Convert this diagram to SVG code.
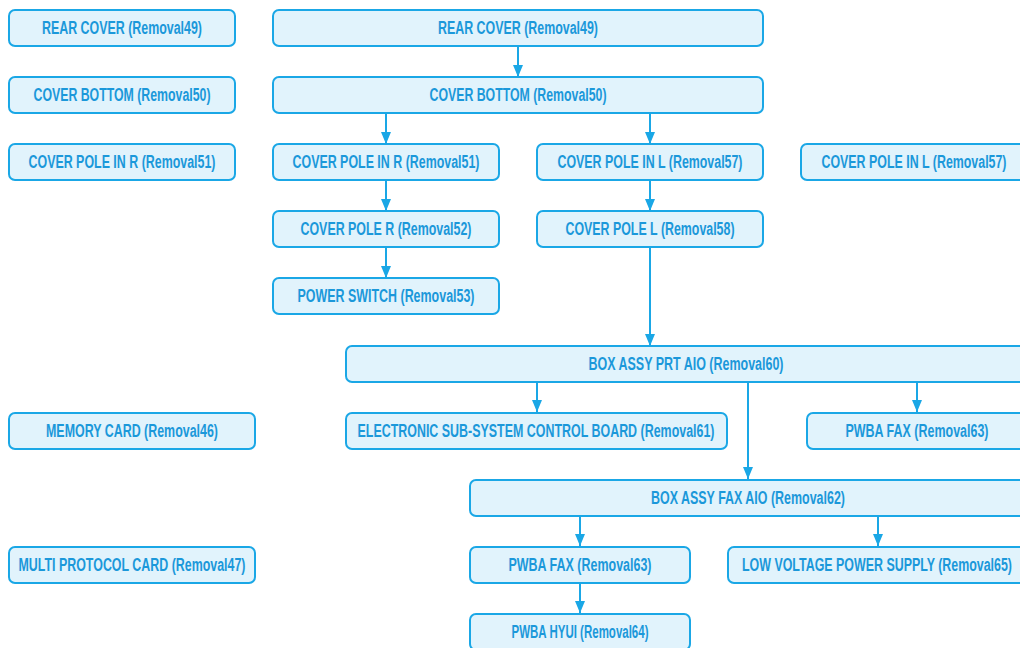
<svg xmlns="http://www.w3.org/2000/svg" width="1020" height="648" viewBox="0 0 1020 648">
<style>
.b{fill:#e1f3fc;stroke:#1aa7e6;stroke-width:2}
.t{font-family:"Liberation Sans",Arial,sans-serif;font-weight:bold;font-size:18px;fill:#1b98da;text-anchor:middle}
.c{stroke:#1aa7e6;stroke-width:2;fill:none;marker-end:url(#a)}
</style>
<defs>
<marker id="a" viewBox="0 0 12 10" refX="12" refY="5" markerWidth="12" markerHeight="10" markerUnits="userSpaceOnUse" orient="auto">
<path d="M0,0 L12,5 L0,10 Z" fill="#1aa7e6"/>
</marker>
</defs>
<rect width="1020" height="648" fill="#fff"/>
<g id="connectors">
<line class="c" x1="518" y1="46" x2="518" y2="77"/>
<line class="c" x1="386" y1="113" x2="386" y2="144"/>
<line class="c" x1="650" y1="113" x2="650" y2="144"/>
<line class="c" x1="386" y1="180" x2="386" y2="211"/>
<line class="c" x1="650" y1="180" x2="650" y2="211"/>
<line class="c" x1="386" y1="247" x2="386" y2="278"/>
<line class="c" x1="650" y1="247" x2="650" y2="346"/>
<line class="c" x1="537" y1="382" x2="537" y2="412"/>
<line class="c" x1="917" y1="382" x2="917" y2="412"/>
<line class="c" x1="748" y1="382" x2="748" y2="479"/>
<line class="c" x1="580" y1="516" x2="580" y2="546"/>
<line class="c" x1="878" y1="516" x2="878" y2="546"/>
<line class="c" x1="580" y1="583" x2="580" y2="613"/>
</g>
<g id="n1"><rect class="b" x="9" y="10" width="226" height="36" rx="6"/><text class="t" x="122" y="34" textLength="160" lengthAdjust="spacingAndGlyphs">REAR COVER (Removal49)</text></g>
<g id="n2"><rect class="b" x="273" y="10" width="490" height="36" rx="6"/><text class="t" x="518" y="34" textLength="160" lengthAdjust="spacingAndGlyphs">REAR COVER (Removal49)</text></g>
<g id="n3"><rect class="b" x="9" y="77" width="226" height="36" rx="6"/><text class="t" x="122" y="101" textLength="177" lengthAdjust="spacingAndGlyphs">COVER BOTTOM (Removal50)</text></g>
<g id="n4"><rect class="b" x="273" y="77" width="490" height="36" rx="6"/><text class="t" x="518" y="101" textLength="177" lengthAdjust="spacingAndGlyphs">COVER BOTTOM (Removal50)</text></g>
<g id="n5"><rect class="b" x="9" y="144" width="226" height="36" rx="6"/><text class="t" x="122" y="168" textLength="187" lengthAdjust="spacingAndGlyphs">COVER POLE IN R (Removal51)</text></g>
<g id="n6"><rect class="b" x="273" y="144" width="226" height="36" rx="6"/><text class="t" x="386" y="168" textLength="187" lengthAdjust="spacingAndGlyphs">COVER POLE IN R (Removal51)</text></g>
<g id="n7"><rect class="b" x="537" y="144" width="226" height="36" rx="6"/><text class="t" x="650" y="168" textLength="185" lengthAdjust="spacingAndGlyphs">COVER POLE IN L (Removal57)</text></g>
<g id="n8"><rect class="b" x="801" y="144" width="226" height="36" rx="6"/><text class="t" x="914" y="168" textLength="185" lengthAdjust="spacingAndGlyphs">COVER POLE IN L (Removal57)</text></g>
<g id="n9"><rect class="b" x="273" y="211" width="226" height="36" rx="6"/><text class="t" x="386" y="235" textLength="171" lengthAdjust="spacingAndGlyphs">COVER POLE R (Removal52)</text></g>
<g id="n10"><rect class="b" x="537" y="211" width="226" height="36" rx="6"/><text class="t" x="650" y="235" textLength="169" lengthAdjust="spacingAndGlyphs">COVER POLE L (Removal58)</text></g>
<g id="n11"><rect class="b" x="273" y="278" width="226" height="36" rx="6"/><text class="t" x="386" y="302" textLength="177" lengthAdjust="spacingAndGlyphs">POWER SWITCH (Removal53)</text></g>
<g id="n12"><rect class="b" x="346" y="346" width="681" height="36" rx="6"/><text class="t" x="686" y="370" textLength="195" lengthAdjust="spacingAndGlyphs">BOX ASSY PRT AIO (Removal60)</text></g>
<g id="n13"><rect class="b" x="9" y="413" width="246" height="36" rx="6"/><text class="t" x="132" y="437" textLength="172" lengthAdjust="spacingAndGlyphs">MEMORY CARD (Removal46)</text></g>
<g id="n14"><rect class="b" x="346" y="413" width="381" height="36" rx="6"/><text class="t" x="536" y="437" textLength="357" lengthAdjust="spacingAndGlyphs">ELECTRONIC SUB-SYSTEM CONTROL BOARD (Removal61)</text></g>
<g id="n15"><rect class="b" x="807" y="413" width="220" height="36" rx="6"/><text class="t" x="917" y="437" textLength="143" lengthAdjust="spacingAndGlyphs">PWBA FAX (Removal63)</text></g>
<g id="n16"><rect class="b" x="470" y="480" width="557" height="36" rx="6"/><text class="t" x="748" y="504" textLength="194" lengthAdjust="spacingAndGlyphs">BOX ASSY FAX AIO (Removal62)</text></g>
<g id="n17"><rect class="b" x="9" y="547" width="246" height="36" rx="6"/><text class="t" x="132" y="571" textLength="227" lengthAdjust="spacingAndGlyphs">MULTI PROTOCOL CARD (Removal47)</text></g>
<g id="n18"><rect class="b" x="470" y="547" width="220" height="36" rx="6"/><text class="t" x="580" y="571" textLength="143" lengthAdjust="spacingAndGlyphs">PWBA FAX (Removal63)</text></g>
<g id="n19"><rect class="b" x="728" y="547" width="299" height="36" rx="6"/><text class="t" x="877" y="571" textLength="270" lengthAdjust="spacingAndGlyphs">LOW VOLTAGE POWER SUPPLY (Removal65)</text></g>
<g id="n20"><rect class="b" x="470" y="614" width="220" height="36" rx="6"/><text class="t" x="580" y="638" textLength="137" lengthAdjust="spacingAndGlyphs">PWBA HYUI (Removal64)</text></g>
</svg>
